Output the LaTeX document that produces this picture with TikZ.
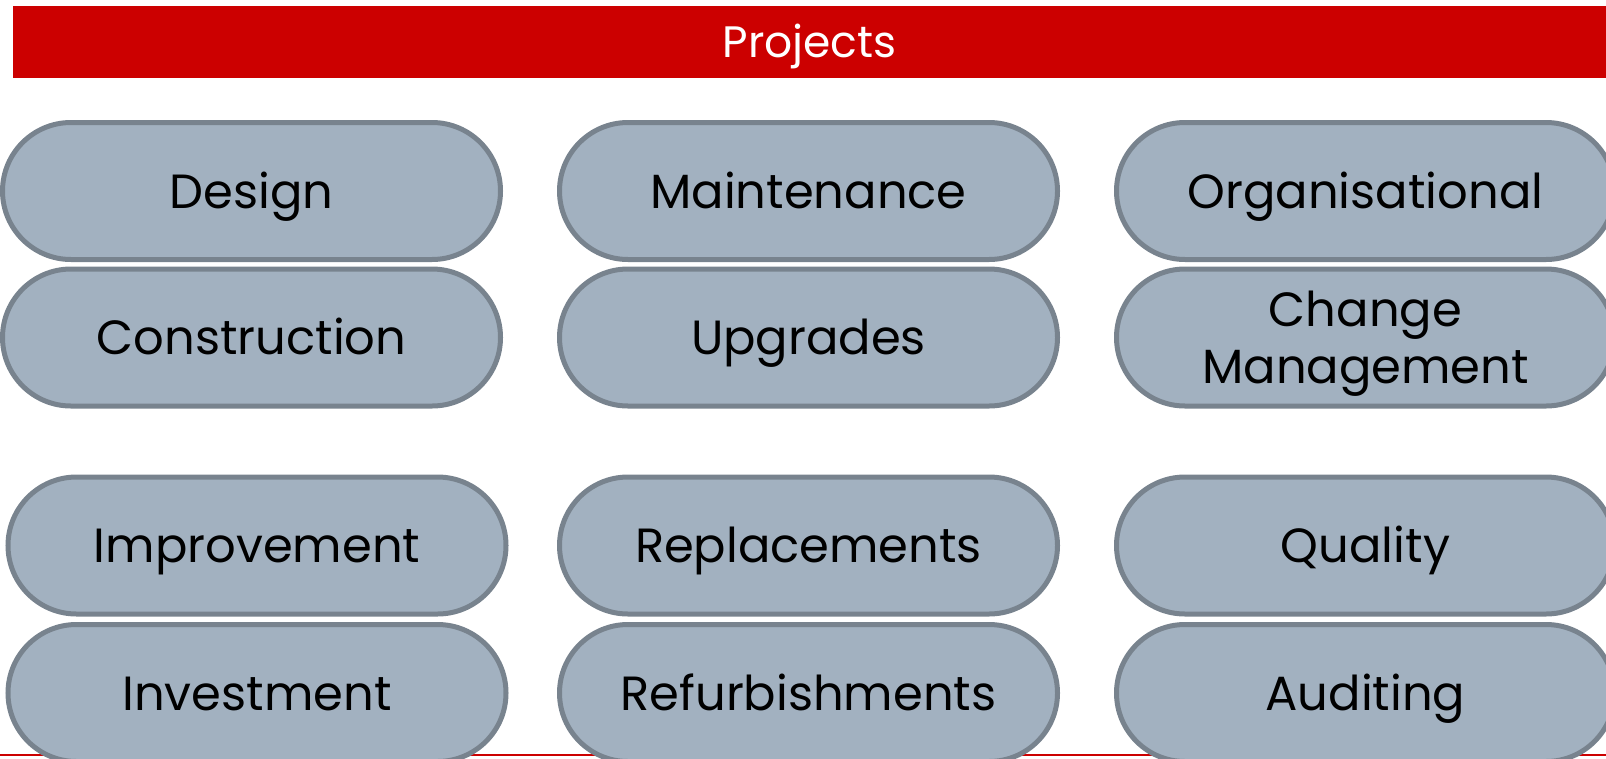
\documentclass[tikz,border=0pt]{standalone}
\usepackage{fontspec}
\setmainfont{Poppins}
\usepackage{tikz}

\definecolor{barred}{RGB}{204,0,0}
\definecolor{pillfill}{RGB}{162,177,192}
\definecolor{pilledge}{RGB}{120,131,142}

\begin{document}
\begin{tikzpicture}
    [x=1pt, y=-1pt, pill/.style={rectangle, rounded corners=68.5pt, draw=pilledge, fill=pillfill, line width=5pt, minimum width=498pt, minimum height=137pt, inner sep=0pt, align=center, text height=34pt, text depth=0pt, font=\fontsize{48}{57}\selectfont}, titlebar/.style={rectangle, fill=barred, text=white, minimum width=1593pt, minimum height=72pt, inner sep=0pt, text height=31pt, text depth=0pt, font=\fontsize{44}{52}\selectfont}]
    \useasboundingbox (0,0) rectangle (1606,758);
    \clip (0,0) rectangle (1606,758);
    \begin{scope}
    \node[titlebar] (title) at (809.5,42) {Projects};
    \draw[barred, line width=1.5pt] (0,755) -- (1606,755);
    % first block
    \node[pill] (design) at (251.5,191) {Design};
    \node[pill] (maint) at (808.5,191) {Maintenance};
    \node[pill] (org) at (1365.5,191) {Organisational};
    \node[pill] (constr) at (251.5,337.5) {Construction};
    \node[pill] (upgr) at (808.5,337.5) {Upgrades};
    \node[pill, text height=91pt] (change) at (1365.5,337.5) {Change\\Management};
    % second block
    \node[pill] (improv) at (257,545.5) {Improvement};
    \node[pill] (repl) at (808.5,545.5) {Replacements};
    \node[pill] (qual) at (1365.5,545.5) {Quality};
    \node[pill] (invest) at (257,693) {Investment};
    \node[pill] (refurb) at (808.5,693) {Refurbishments};
    \node[pill] (audit) at (1365.5,693) {Auditing};
    \end{scope}
\end{tikzpicture}
\end{document}
